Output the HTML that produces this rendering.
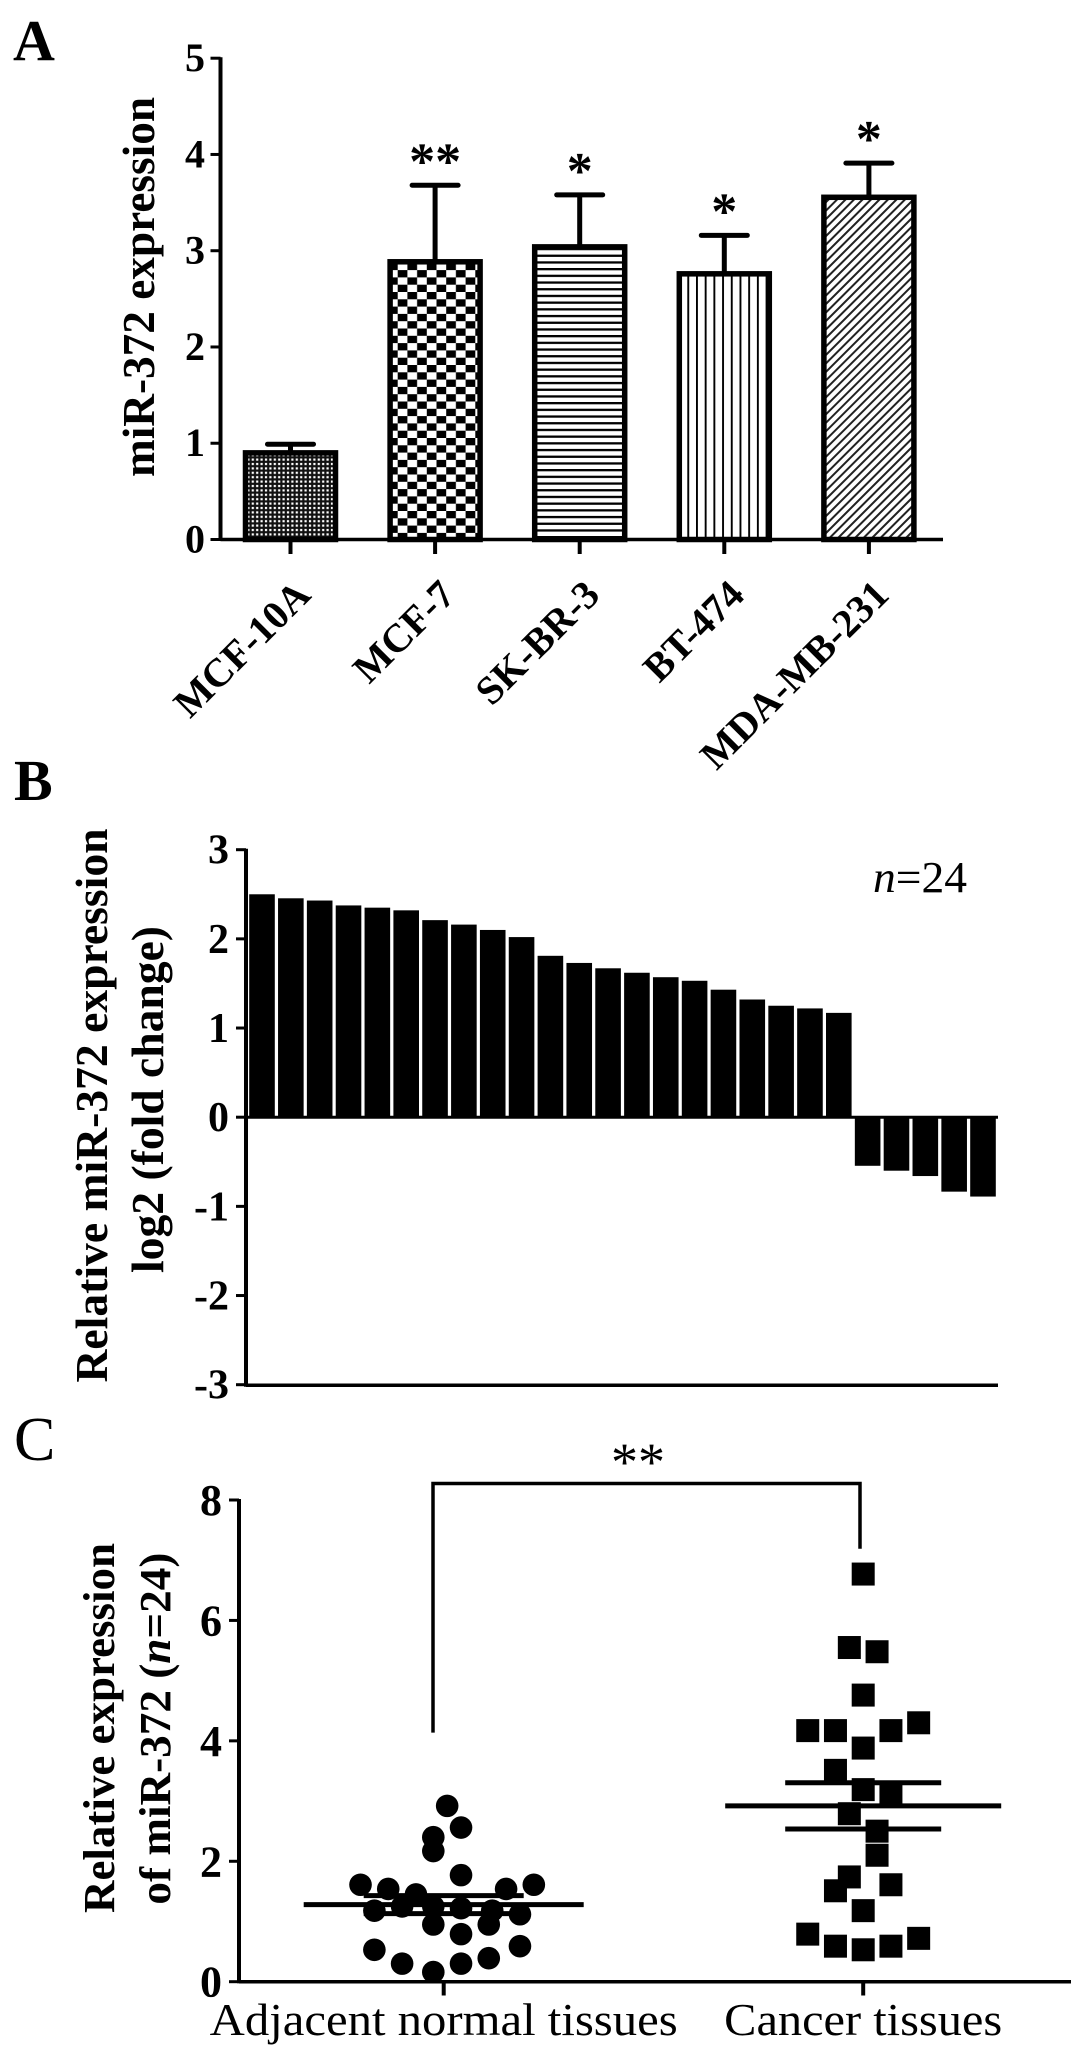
<!DOCTYPE html>
<html><head><meta charset="utf-8"><style>
html,body{margin:0;padding:0;background:#fff;}
svg{display:block;font-family:"Liberation Serif","Times New Roman",serif;}
</style></head><body>
<svg id="fig" xmlns="http://www.w3.org/2000/svg" width="1087" height="2060" viewBox="0 0 1087 2060">
<defs>
<pattern id="pDots" patternUnits="userSpaceOnUse" width="4.4" height="4.4"><rect width="4.4" height="4.4" fill="#111"/><rect x="0.9" y="0.9" width="2.2" height="2.2" fill="#fff"/></pattern>
<pattern id="pCheck" patternUnits="userSpaceOnUse" width="19.4" height="14.6"><rect width="19.4" height="14.6" fill="#fff"/><rect width="9.7" height="7.3" fill="#000"/><rect x="9.7" y="7.3" width="9.7" height="7.3" fill="#000"/></pattern>
<pattern id="pHoriz" patternUnits="userSpaceOnUse" width="10" height="6.7"><rect width="10" height="6.7" fill="#fff"/><rect y="0" width="10" height="2.3" fill="#000"/></pattern>
<pattern id="pVert" patternUnits="userSpaceOnUse" width="8.7" height="10"><rect width="8.7" height="10" fill="#fff"/><rect x="0" width="1.9" height="10" fill="#000"/></pattern>
<pattern id="pDiag" patternUnits="userSpaceOnUse" width="6" height="6" patternTransform="rotate(45)"><rect width="6" height="6" fill="#fff"/><rect width="2" height="6" fill="#222"/></pattern>
</defs>
<g id="panelA"></g>
<g id="panelB"></g>
<g id="panelC"></g>
</svg>
<script>
// ---------- Panel A data ----------
const aCategories = ["MCF-10A","MCF-7","SK-BR-3","BT-474","MDA-MB-231"];
const aValues = [0.90, 2.885, 3.04, 2.76, 3.555];
const aErrors = [0.99, 3.68, 3.58, 3.16, 3.91];
const aStars = ["", "**", "*", "*", "*"];
const aPatterns = ["pDots","pCheck","pHoriz","pVert","pDiag"];
const aTicks = [0,1,2,3,4,5];
// ---------- Panel B data ----------
const bValues = [2.50,2.455,2.43,2.375,2.35,2.32,2.21,2.16,2.10,2.02,1.81,1.73,1.67,1.62,1.57,1.53,1.43,1.32,1.25,1.22,1.17,-0.545,-0.60,-0.66,-0.835,-0.89];
const bTicks = [3,2,1,0,-1,-2,-3];
// ---------- Panel C data ----------
const cGroups = ["Adjacent normal tissues","Cancer tissues"];
const cNormal = [2.92,2.56,2.40,2.17,1.77,1.61,1.54,1.45,1.54,1.61,1.18,1.25,1.25,1.22,1.18,1.12,0.95,0.95,0.79,0.53,0.59,0.30,0.30,0.39,0.16];
const cNormalJitter = [5,25,-15,-15,25,-120,-80,-40,90,130,-100,-60,-15,25,70,110,-15,65,25,-100,110,-60,25,65,-15];
const cCancer = [6.77,5.55,5.48,4.76,4.17,4.17,4.17,4.30,3.88,3.51,3.19,3.15,2.79,2.50,2.10,1.74,1.61,1.51,1.18,0.79,0.59,0.53,0.59,0.72];
const cCancerJitter = [0,-20,20,0,-80,-40,40,80,0,-40,0,40,-20,20,20,-20,40,-40,0,-80,-40,0,40,80];
const cMeans = [1.28, 2.92];
const cSem = [0.15, 0.385];
const cTicks = [0,2,4,6,8];

const NS = "http://www.w3.org/2000/svg";
function mk(parent, tag, attrs, text){
  const e = document.createElementNS(NS, tag);
  for (const k in attrs) e.setAttribute(k, attrs[k]);
  if (text !== undefined) e.textContent = text;
  parent.appendChild(e);
  return e;
}

// ================= Panel A =================
(function(){
  const g = document.getElementById('panelA');
  const ax = 220.5, axR = 943, y0 = 539.5, y5 = 58.2;
  const yA = v => y0 - (y0 - y5) * v / 5;
  const xA = i => 290.5 + i * 144.6;
  let t = mk(g,'text',{x:13,y:60,'font-size':58,'font-weight':'bold'},'A');
  
  
  t = mk(g,'text',{transform:'translate(154,287) rotate(-90)','text-anchor':'middle','font-size':46,'font-weight':'bold',textLength:380,lengthAdjust:'spacingAndGlyphs'},'miR-372 expression');
  
  
  aTicks.forEach(v=>{
    let l = mk(g,'line',{x1:ax-10,x2:ax,y1:yA(v),y2:yA(v),stroke:'#000','stroke-width':3});
    
    
    let tx = mk(g,'text',{x:205,y:yA(v)+13,'text-anchor':'end','font-size':40,'font-weight':'bold'},String(v));
    
    
  });
  aValues.forEach((v,i)=>{
    const c = xA(i);
    let r = mk(g,'rect',{x:c-45,y:yA(v),width:90,height:y0-yA(v),fill:'url(#'+aPatterns[i]+')',stroke:'#000','stroke-width':5.5});
    
    
    let e = mk(g,'line',{x1:c,x2:c,y1:yA(v)-2,y2:yA(aErrors[i]),stroke:'#000','stroke-width':5});
    
    
    let cap = mk(g,'line',{x1:c-23,x2:c+23,y1:yA(aErrors[i]),y2:yA(aErrors[i]),stroke:'#000','stroke-width':5,'stroke-linecap':'round'});
    
    
    if (aStars[i]) {
      let s = mk(g,'text',{x:c,y:yA(aErrors[i])-7,'text-anchor':'middle','font-size':52,'font-weight':'bold'},aStars[i]);
      
      
    }
    let tk = mk(g,'line',{x1:c,x2:c,y1:y0,y2:554,stroke:'#000','stroke-width':4});
    
    
    let lb = mk(g,'text',{transform:'translate('+(c+22)+',597) rotate(-45)','text-anchor':'end','font-size':40,'font-weight':'bold'},aCategories[i]);
    
    
  });
  let yl = mk(g,'line',{x1:ax,x2:ax,y1:y5-1,y2:y0+1.5,stroke:'#000','stroke-width':4});
  
  
  let xl = mk(g,'line',{x1:ax,x2:axR,y1:y0,y2:y0,stroke:'#000','stroke-width':3.5});
  
  
})();

// ================= Panel B =================
(function(){
  const g = document.getElementById('panelB');
  const ax = 246, axR = 998, yTop = 849.7, yZero = 1117.2, yBot = 1385.3;
  const unit = (yZero - yTop) / 3;
  const yB = v => yZero - v * unit;
  const xB = i => 262 + i * 28.84;
  let t = mk(g,'text',{x:14,y:800,'font-size':58,'font-weight':'bold'},'B');
  
  
  t = mk(g,'text',{transform:'translate(107,1105.5) rotate(-90)','text-anchor':'middle','font-size':46,'font-weight':'bold',textLength:554,lengthAdjust:'spacingAndGlyphs'},'Relative miR-372 expression');
  
  
  t = mk(g,'text',{transform:'translate(163,1099.5) rotate(-90)','text-anchor':'middle','font-size':46,'font-weight':'bold',textLength:347,lengthAdjust:'spacingAndGlyphs'},'log2 (fold change)');
  
  
  bTicks.forEach(v=>{
    let l = mk(g,'line',{x1:ax-10,x2:ax,y1:yB(v),y2:yB(v),stroke:'#000','stroke-width':3});
    
    
    let tx = mk(g,'text',{x:229,y:yB(v)+14,'text-anchor':'end','font-size':42,'font-weight':'bold'},String(v));
    
    
  });
  bValues.forEach((v,i)=>{
    const c = xB(i);
    const top = Math.min(yB(v), yZero), h = Math.abs(yB(v) - yZero);
    let r = mk(g,'rect',{x:c-12.8,y:top,width:25.6,height:h,fill:'#000'});
    
    
  });
  let zl = mk(g,'line',{x1:ax,x2:axR,y1:yZero,y2:yZero,stroke:'#000','stroke-width':3});
  
  
  let yl = mk(g,'line',{x1:ax,x2:ax,y1:yTop-1,y2:yBot+1.5,stroke:'#000','stroke-width':4});
  
  
  let xl = mk(g,'line',{x1:ax,x2:axR,y1:yBot,y2:yBot,stroke:'#000','stroke-width':3.5});
  
  
  let n = mk(g,'text',{x:873,y:892,'font-size':44,textLength:94,lengthAdjust:'spacingAndGlyphs'});
  
  
  mk(n,'tspan',{'font-style':'italic'},'n');
  mk(n,'tspan',{},'=24');
})();

// ================= Panel C =================
(function(){
  const g = document.getElementById('panelC');
  const ax = 239, axR = 1071, y8 = 1500, y0 = 1981.7;
  const yC = v => y0 - (y0 - y8) * v / 8;
  const groupX = [443.7, 863.2];
  const jit = d => d / 1.4425;
  let t = mk(g,'text',{x:14,y:1460,'font-size':62},'C');
  
  
  t = mk(g,'text',{transform:'translate(114,1728) rotate(-90)','text-anchor':'middle','font-size':44,'font-weight':'bold',textLength:370,lengthAdjust:'spacingAndGlyphs'},'Relative expression');
  
  
  t = mk(g,'text',{transform:'translate(170,1728.6) rotate(-90)','text-anchor':'middle','font-size':44,'font-weight':'bold',textLength:352,lengthAdjust:'spacingAndGlyphs'});
  
  
  mk(t,'tspan',{},'of miR-372 (');
  mk(t,'tspan',{'font-style':'italic'},'n');
  mk(t,'tspan',{},'=24)');
  cTicks.forEach(v=>{
    let l = mk(g,'line',{x1:ax-10,x2:ax,y1:yC(v),y2:yC(v),stroke:'#000','stroke-width':3});
    
    
    let tx = mk(g,'text',{x:222,y:yC(v)+15,'text-anchor':'end','font-size':44,'font-weight':'bold'},String(v));
    
    
  });
  cNormal.forEach((v,i)=>{
    let c = mk(g,'circle',{cx:groupX[0]+jit(cNormalJitter[i]),cy:yC(v),r:11.3,fill:'#000'});
    
    
  });
  cCancer.forEach((v,i)=>{
    let s = mk(g,'rect',{x:groupX[1]+jit(cCancerJitter[i])-11.5,y:yC(v)-11.5,width:23,height:23,fill:'#000'});
    
    
  });
  const meanHalf = [140, 138], semHalf = [80, 78];
  cMeans.forEach((m,i)=>{
    const cx = groupX[i];
    let ml = mk(g,'line',{x1:cx-meanHalf[i],x2:cx+meanHalf[i],y1:yC(m),y2:yC(m),stroke:'#000','stroke-width':5});
    
    
    [m+cSem[i], m-cSem[i]].forEach(sv=>{
      let sl = mk(g,'line',{x1:cx-semHalf[i],x2:cx+semHalf[i],y1:yC(sv),y2:yC(sv),stroke:'#000','stroke-width':5});
      
      
    });
    let tk = mk(g,'line',{x1:cx,x2:cx,y1:y0,y2:1995.5,stroke:'#000','stroke-width':4});
    
    
  });
  let l1 = mk(g,'text',{x:groupX[0],y:2035,'text-anchor':'middle','font-size':46,textLength:468,lengthAdjust:'spacingAndGlyphs'},cGroups[0]);
  
  
  let l2 = mk(g,'text',{x:groupX[1],y:2035,'text-anchor':'middle','font-size':46,textLength:278,lengthAdjust:'spacingAndGlyphs'},cGroups[1]);
  
  
  let br = mk(g,'path',{d:'M433 1732.6 V1483.5 H860 V1548.7',fill:'none',stroke:'#000','stroke-width':3.5});
  
  
  let st = mk(g,'text',{x:638,y:1480,'text-anchor':'middle','font-size':54},'**');
  
  
  let yl = mk(g,'line',{x1:ax,x2:ax,y1:y8-1,y2:y0+1.5,stroke:'#000','stroke-width':4});
  
  
  let xl = mk(g,'line',{x1:ax,x2:axR,y1:y0,y2:y0,stroke:'#000','stroke-width':3.5});
  
  
})();
</script>
</body></html>
